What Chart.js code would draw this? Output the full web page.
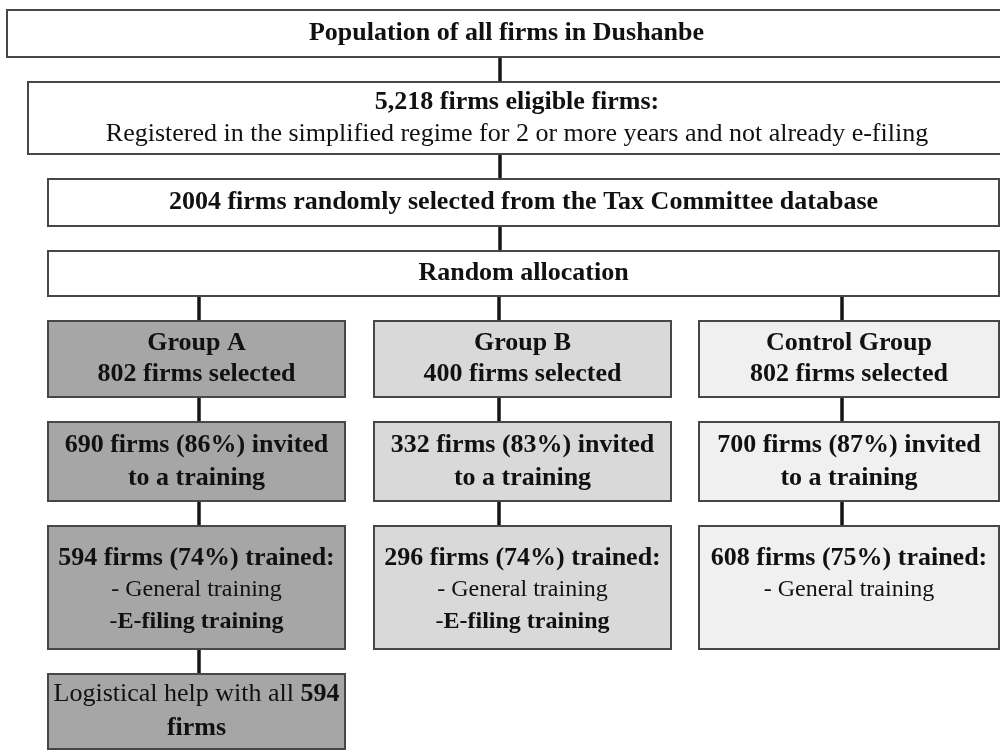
<!DOCTYPE html>
<html><head><meta charset="utf-8">
<script src="https://cdn.jsdelivr.net/npm/chart.js@4.4.0/dist/chart.umd.min.js"></script>
<style>html,body{margin:0;padding:0;background:#fff;}#wrap{width:1000px;height:750px;position:relative;}</style>
</head><body><div id="wrap"><canvas id="c"></canvas></div>
<script>
// ---------------- data ----------------
const populationLabel = 'Population of all firms in Dushanbe';
const eligibleFirms = 5218;
const eligibleCriteria = 'Registered in the simplified regime for 2 or more years and not already e-filing';
const sampledFirms = 2004;
const sampleSource = 'the Tax Committee database';
const allocationLabel = 'Random allocation';
const groupNames = ['Group A', 'Group B', 'Control Group'];
const firmsSelected = [802, 400, 802];
const firmsInvited = [690, 332, 700];
const invitedPct = [86, 83, 87];
const firmsTrained = [594, 296, 608];
const trainedPct = [74, 74, 75];
const trainingTypes = [['General training', 'E-filing training'], ['General training', 'E-filing training'], ['General training']];
const logisticalHelp = [594, null, null];

// ---------------- layout & style (not data) ----------------
const FONT = '"Liberation Serif", "Times New Roman", serif';
const topBoxes = [
  {x0: 7, x1: 1006, y0: 10, y1: 57},
  {x0: 28, x1: 1006, y0: 82, y1: 154},
  {x0: 48, x1: 999, y0: 179, y1: 226},
  {x0: 48, x1: 999, y0: 251, y1: 296}
];
const trunkX = 500;
const cols = [
  {x0: 48, x1: 345, link: 199},
  {x0: 374, x1: 671, link: 499},
  {x0: 699, x1: 999, link: 842}
];
const rows = [
  {y0: 321, y1: 397},
  {y0: 422, y1: 501},
  {y0: 526, y1: 649},
  {y0: 674, y1: 749}
];
const groupFills = ['#a6a6a6', '#d9d9d9', '#f0f0f0'];
const BORDER = '#474747';
const LINK = '#151515';

// ---------------- build text content from data ----------------
const B = (t, s) => ({t, w: 'bold', s: s || 26});
const R = (t, s) => ({t, w: 'normal', s: s || 26});
const fmt = n => n.toLocaleString('en-US');

const topTexts = [
  [[B(populationLabel)]],
  [[B(fmt(eligibleFirms) + ' firms eligible firms:')], [R(eligibleCriteria)]],
  [[B(sampledFirms + ' firms randomly selected from ' + sampleSource)]],
  [[B(allocationLabel)]]
];
function groupTexts(i) {
  const r = [];
  r.push([[B(groupNames[i])], [B(firmsSelected[i] + ' firms selected')]]);
  r.push([[B(firmsInvited[i] + ' firms (' + invitedPct[i] + '%) invited')], [B('to a training')]]);
  const tr = [[B(firmsTrained[i] + ' firms (' + trainedPct[i] + '%) trained:')]];
  trainingTypes[i].forEach(t => {
    if (t === 'General training') tr.push([R('- ', 24), R(t, 24)]);
    else tr.push([R('-', 24), B(t, 24)]);
  });
  r.push(tr);
  if (logisticalHelp[i] != null) {
    r.push([[R('Logistical help with all '), B(String(logisticalHelp[i]))], [B('firms')]]);
  }
  return r;
}

// ---------------- drawing plugin (uses chart scales) ----------------
const flowPlugin = {
  id: 'flow',
  afterDraw(chart) {
    const ctx = chart.ctx, xs = chart.scales.x, ys = chart.scales.y;
    const X = v => xs.getPixelForValue(v), Y = v => ys.getPixelForValue(v);
    ctx.save();
    function link(x, ya, yb) {
      ctx.beginPath();
      ctx.strokeStyle = LINK; ctx.lineWidth = 3.5;
      ctx.moveTo(X(x), Y(ya)); ctx.lineTo(X(x), Y(yb)); ctx.stroke();
    }
    function box(b, fill) {
      ctx.fillStyle = fill;
      ctx.fillRect(X(b.x0), Y(b.y0), X(b.x1) - X(b.x0), Y(b.y1) - Y(b.y0));
      ctx.strokeStyle = BORDER; ctx.lineWidth = 2;
      ctx.strokeRect(X(b.x0), Y(b.y0), X(b.x1) - X(b.x0), Y(b.y1) - Y(b.y0));
    }
    function line(runs, cx, cy) {
      let total = 0;
      runs.forEach(r => { ctx.font = r.w + ' ' + r.s + 'px ' + FONT; r.m = ctx.measureText(r.t).width; total += r.m; });
      let x = X(cx) - total / 2;
      ctx.fillStyle = '#111'; ctx.textBaseline = 'middle'; ctx.textAlign = 'left';
      runs.forEach(r => { ctx.font = r.w + ' ' + r.s + 'px ' + FONT; ctx.fillText(r.t, x, Y(cy)); x += r.m; });
    }
    function textBlock(lines, b, spacing, firstY) {
      const cx = (b.x0 + b.x1) / 2;
      const start = firstY != null ? firstY : (b.y0 + b.y1) / 2 - (lines.length - 1) * spacing / 2;
      lines.forEach((ln, k) => line(ln, cx, start + k * spacing));
    }
    // links
    for (let k = 0; k < topBoxes.length - 1; k++) link(trunkX, topBoxes[k].y1, topBoxes[k + 1].y0);
    cols.forEach((c, i) => {
      const n = groupTexts(i).length;
      link(c.link, topBoxes[3].y1, rows[0].y0);
      for (let r = 0; r < n - 1; r++) link(c.link, rows[r].y1, rows[r + 1].y0);
    });
    // top boxes
    topBoxes.forEach((b, k) => { box(b, '#ffffff'); textBlock(topTexts[k], b, 32); });
    // group columns
    cols.forEach((c, i) => {
      const texts = groupTexts(i);
      texts.forEach((lines, r) => {
        const b = {x0: c.x0, x1: c.x1, y0: rows[r].y0, y1: rows[r].y1};
        box(b, groupFills[i]);
        if (r === 2) textBlock(lines, b, 32, b.y0 + 32);
        else if (r === 3) textBlock(lines, b, 34);
        else textBlock(lines, b, r === 0 ? 31 : 33);
      });
    });
    ctx.restore();
  }
};

new Chart(document.getElementById('c'), {
  type: 'scatter',
  data: {datasets: [{data: [], pointRadius: 0}]},
  options: {
    responsive: true, maintainAspectRatio: false, animation: false, events: [],
    layout: {padding: 0},
    plugins: {legend: {display: false}, tooltip: {enabled: false}},
    scales: {
      x: {type: 'linear', min: 0, max: 1000, display: false},
      y: {type: 'linear', min: 0, max: 750, reverse: true, display: false}
    }
  },
  plugins: [flowPlugin]
});
</script></body></html>
